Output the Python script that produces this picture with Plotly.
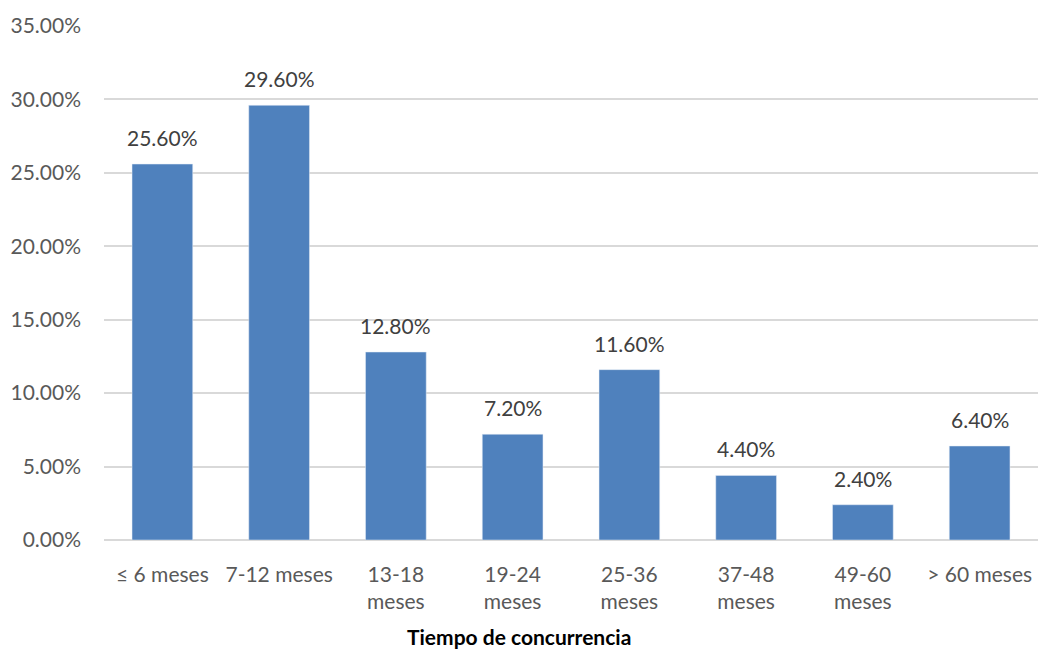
import plotly.graph_objects as go

categories = ["≤ 6 meses", "7-12 meses", "13-18<br>meses", "19-24<br>meses",
              "25-36<br>meses", "37-48<br>meses", "49-60<br>meses", "> 60 meses"]
values = [0.256, 0.296, 0.128, 0.072, 0.116, 0.044, 0.024, 0.064]
labels = ["25.60%", "29.60%", "12.80%", "7.20%", "11.60%", "4.40%", "2.40%", "6.40%"]
y_ticks = [0, 0.05, 0.10, 0.15, 0.20, 0.25, 0.30, 0.35]
y_tick_text = ["0.00%", "5.00%", "10.00%", "15.00%", "20.00%", "25.00%", "30.00%", "35.00%"]
x_title = "Tiempo de concurrencia"

FONT = "Lato, Carlito, Calibri, sans-serif"

fig = go.Figure(go.Bar(
    x=categories, y=values,
    marker=dict(color="#4F81BD"),
))

for c, v, t in zip(categories, values, labels):
    fig.add_annotation(x=c, y=v, text=t, showarrow=False, yanchor="bottom",
                       yshift=12, font=dict(family=FONT, size=21, color="#404040"))

# axis title, centred on the whole figure as in the reference
fig.add_annotation(xref="paper", yref="paper", x=(519 - 104) / 934, y=0,
                   xanchor="center", yanchor="middle", yshift=-96,
                   text="<b>" + x_title + "</b>", showarrow=False,
                   font=dict(family=FONT, size=21, color="#000000"))

fig.update_layout(
    width=1038, height=652,
    margin=dict(l=104, r=0, t=26, b=112),
    plot_bgcolor="white", paper_bgcolor="white",
    bargap=0.48, showlegend=False,
    font=dict(family=FONT),
    xaxis=dict(
        tickfont=dict(family=FONT, size=21, color="#595959"),
        showgrid=False, showline=False, ticks="", ticklabelstandoff=20,
    ),
    yaxis=dict(
        range=[0, 0.35], tickvals=y_ticks, ticktext=y_tick_text,
        tickfont=dict(family=FONT, size=21, color="#595959"),
        showgrid=True, gridcolor="#D9D9D9", gridwidth=1.5,
        zeroline=True, zerolinecolor="#D9D9D9", zerolinewidth=1.5,
        ticks="", ticklabelstandoff=22,
    ),
)

fig.write_html("out.html")
